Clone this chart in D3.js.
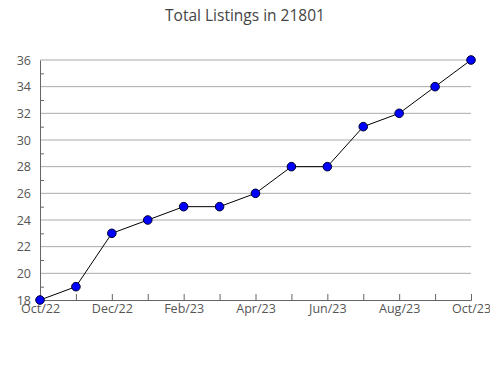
<!DOCTYPE html>
<html>
<meta charset="utf-8">
<head>
<style>
body { margin: 0; background: #fff; }
text { font-family: "Open Sans", sans-serif; }
.title { font-size: 15.5px; fill: #444; }
.tick text { font-size: 12.5px; fill: #555; }
.grid line { stroke: #aaa; }
</style>
</head>
<body>
<script src="https://d3js.org/d3.v7.min.js"></script>
<script>

// data
var months = ["Oct/22", "Nov/22", "Dec/22", "Jan/23", "Feb/23", "Mar/23", "Apr/23",
              "May/23", "Jun/23", "Jul/23", "Aug/23", "Sep/23", "Oct/23"];
var listings = [18, 19, 23, 24, 25, 25, 26, 28, 28, 31, 32, 34, 36];
var yTicks = [18, 20, 22, 24, 26, 28, 30, 32, 34, 36];

var margin = {top: 60, right: 19, bottom: 80, left: 40},
    width = 490 - margin.left - margin.right,
    height = 380 - margin.top - margin.bottom;

var svg = d3.select("body").append("svg")
    .attr("width", 490)
    .attr("height", 380);

svg.append("text")
    .attr("class", "title")
    .attr("x", 245)
    .attr("y", 21)
    .style("text-anchor", "middle")
    .text("Total Listings in 21801");

var g = svg.append("g")
    .attr("transform", "translate(" + margin.left + "," + margin.top + ")");

var x = d3.scaleLinear()
    .domain([0, months.length - 1])
    .range([0, width]);

var y = d3.scaleLinear()
    .domain([18, 36])
    .range([height, 0]);

// gridlines
g.append("g")
    .attr("class", "grid")
    .selectAll("line")
    .data(yTicks.slice(1)).enter()
    .append("line")
    .attr("x1", 0)
    .attr("x2", width)
    .attr("y1", d => y(d))
    .attr("y2", d => y(d));

// minor y ticks (odd values)
g.append("g")
    .call(d3.axisRight(y).tickValues(d3.range(19, 36, 2)).tickSize(4).tickFormat(""))
    .call(a => a.select(".domain").remove())
    .selectAll("line").attr("stroke", "#666");

// y axis
var yAxis = g.append("g")
    .call(d3.axisLeft(y).tickValues(yTicks).tickSize(0).tickPadding(9));
yAxis.select(".domain").attr("stroke", "#666");

// x axis
var xAxis = g.append("g")
    .attr("transform", "translate(0," + height + ")")
    .call(d3.axisBottom(x)
      .tickValues(d3.range(months.length))
      .tickSize(-6)
      .tickPadding(5)
      .tickFormat((d, i) => i % 2 === 0 ? months[i] : ""));
xAxis.select(".domain").attr("stroke", "#666");
xAxis.selectAll("line").attr("stroke", "#666");
xAxis.selectAll("text").attr("dy", "0.6em");

var line = d3.line()
    .x((d, i) => x(i))
    .y(d => y(d));

g.append("path")
    .datum(listings)
    .attr("fill", "none")
    .attr("stroke", "#000")
    .attr("stroke-width", 1)
    .attr("d", line);

g.selectAll("circle")
    .data(listings).enter()
    .append("circle")
    .attr("cx", (d, i) => x(i))
    .attr("cy", d => y(d))
    .attr("r", 4.3)
    .attr("fill", "#0000ff")
    .attr("stroke", "#000033")
    .attr("stroke-width", 1);

</script>
</body>
</html>
